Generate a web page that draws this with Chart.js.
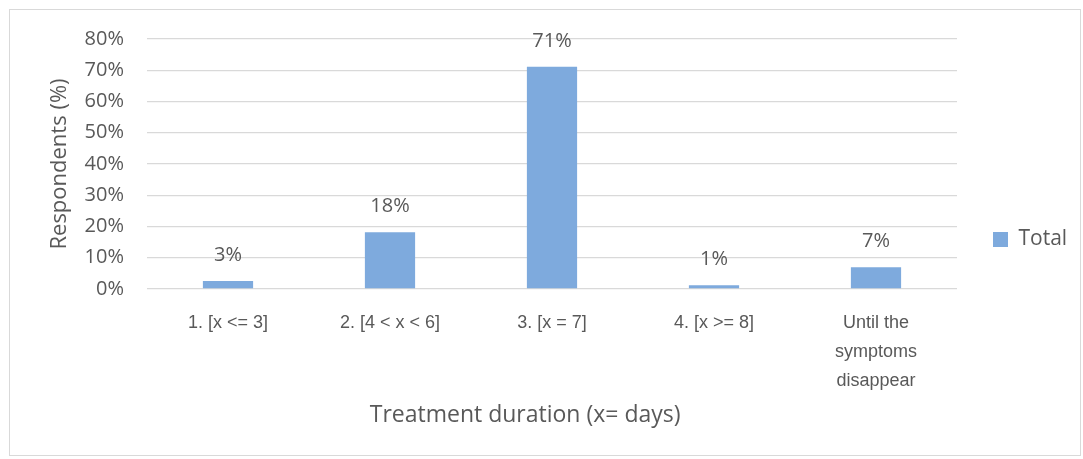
<!DOCTYPE html>
<html>
<head>
<meta charset="utf-8">
<script src="https://cdn.jsdelivr.net/npm/chart.js@4"></script>
<style>
  html, body { margin: 0; padding: 0; background: #fff; }
  #frame {
    position: absolute; left: 9px; top: 9px;
    width: 1070px; height: 445px;
    border: 1px solid #d9d9d9;
  }
</style>
</head>
<body>
<div id="frame"><canvas id="chart" width="1070" height="445"></canvas></div>
<script>
// categories and values
const categories = ['1. [x <= 3]', '2. [4 < x < 6]', '3. [x = 7]', '4. [x >= 8]', ['Until the', 'symptoms', 'disappear']];
const totalValues = [2.6, 18.2, 71.1, 1.2, 7.0];
const yTicks = [0, 10, 20, 30, 40, 50, 60, 70, 80];

const FONT = "'Open Sans', sans-serif";
const NARROW = "'Liberation Sans Narrow', 'Arial Narrow', 'Liberation Sans', sans-serif";
const GREY = '#595959';

// draws the % value above each bar
const valueLabels = {
    id: 'valueLabels',
    afterDatasetsDraw(chart) {
        const c = chart.ctx;
        const meta = chart.getDatasetMeta(0);
        c.save();
        c.font = '20px ' + FONT;
        c.fillStyle = GREY;
        c.textAlign = 'center';
        c.textBaseline = 'middle';
        meta.data.forEach((bar, i) => {
            c.fillText(Math.round(totalValues[i]) + '%', bar.x, bar.y - 26);
        });
        c.restore();
    }
};

// keep the legend narrow so the plot ends where the reference's does
const legendWidth = {
    id: 'legendWidth',
    beforeLayout(chart) {
        const lg = chart.legend;
        if (lg && !lg._patched) {
            const fit = lg.fit;
            lg.fit = function () { fit.call(this); this.width = 123; };
            lg._patched = true;
        }
    }
};

new Chart(document.getElementById('chart'), {
    type: 'bar',
    data: {
        labels: categories,
        datasets: [{
            label: 'Total',
            data: totalValues,
            backgroundColor: '#7eaadd',
            borderWidth: 0,
            categoryPercentage: 1,
            barPercentage: 0.31
        }]
    },
    options: {
        responsive: false,
        animation: false,
        layout: { padding: { top: 29, left: 0, right: 0, bottom: 15 } },
        plugins: {
            legend: {
                position: 'right',
                labels: {
                    color: GREY,
                    font: { family: FONT, size: 21 },
                    boxWidth: 15, boxHeight: 15,
                    padding: 36
                }
            },
            tooltip: { enabled: false }
        },
        scales: {
            x: {
                grid: { display: false },
                border: { display: false },
                ticks: {
                    color: GREY,
                    font: { family: NARROW, size: 18, lineHeight: 1.6 },
                    maxRotation: 0,
                    autoSkip: false,
                    padding: 12
                },
                title: {
                    display: true,
                    // trailing spaces nudge the title left, as in the reference
                    text: 'Treatment duration (x= days)\u00a0\u00a0\u00a0\u00a0\u00a0\u00a0\u00a0\u00a0\u00a0',
                    color: GREY,
                    font: { family: FONT, size: 23 },
                    padding: { top: 0, bottom: 11 }
                },
                afterFit(scale) {
                    scale.height = 151;
                    scale.paddingLeft = 0;
                    scale.paddingRight = 0;
                }
            },
            y: {
                min: 0,
                max: 80,
                afterBuildTicks(scale) { scale.ticks = yTicks.map(v => ({ value: v })); },
                grid: { color: '#d9d9d9', lineWidth: 1.3, drawTicks: false },
                border: { display: false },
                ticks: {
                    color: GREY,
                    font: { family: FONT, size: 20 },
                    padding: 23,
                    callback: v => v + '%'
                },
                title: {
                    display: true,
                    text: 'Respondents (%)',
                    color: GREY,
                    font: { family: FONT, size: 22 },
                    padding: { top: 37, bottom: 0 }
                },
                afterFit(scale) {
                    scale.width = 137;
                    scale.paddingTop = 0;
                    scale.paddingBottom = 0;
                }
            }
        }
    },
    plugins: [valueLabels, legendWidth]
});
</script>
</body>
</html>
